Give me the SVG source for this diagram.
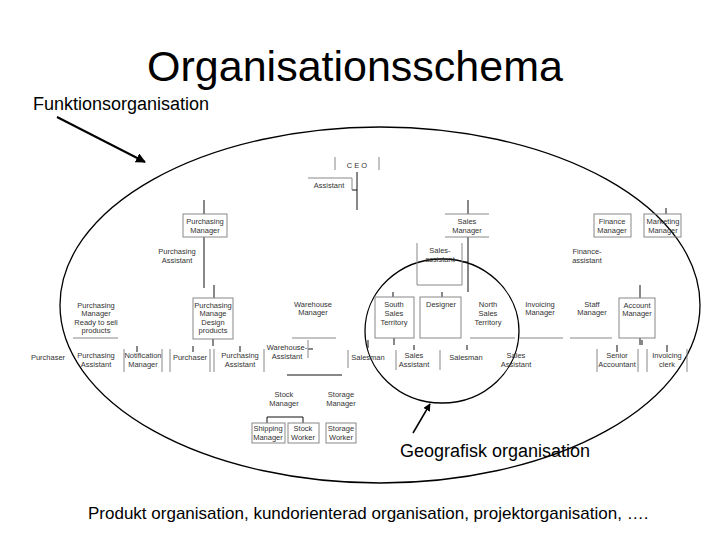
<svg xmlns="http://www.w3.org/2000/svg" width="720" height="540" viewBox="0 0 720 540">
<style>
.t{font-family:"Liberation Sans",Arial,sans-serif;font-size:7.5px;fill:#333;text-anchor:middle}
.b{fill:none;stroke:#888;stroke-width:1}
.c{fill:none;stroke:#111;stroke-width:1}
.big{font-family:"Liberation Sans",Arial,sans-serif;fill:#000}
.ell{fill:none;stroke:#000;stroke-width:1.3}
</style>
<defs>
<marker id="ah" viewBox="0 0 10 10" refX="9" refY="5" markerWidth="5" markerHeight="5" orient="auto"><path d="M0,0 L10,5 L0,10 z" fill="#000"/></marker>
</defs>
<rect width="720" height="540" fill="#fff"/>
<text class="big" x="355" y="81" font-size="43" text-anchor="middle">Organisationsschema</text>
<text class="big" x="33" y="110" font-size="18">Funktionsorganisation</text>
<text class="big" x="400" y="457" font-size="18">Geografisk organisation</text>
<text class="big" x="88" y="519" font-size="17">Produkt organisation, kundorienterad organisation, projektorganisation, ….</text>
<ellipse class="ell" cx="380" cy="305" rx="320" ry="178"/>
<ellipse class="ell" cx="442" cy="331" rx="77" ry="72"/>
<line x1="57" y1="117" x2="145" y2="162" stroke="#000" stroke-width="2" marker-end="url(#ah)"/>
<line x1="413" y1="433" x2="430" y2="404" stroke="#000" stroke-width="1.5" marker-end="url(#ah)"/>
<g id="connectors">
<path class="c" d="M357,172 V210 M352,190 H357 M204,200 V214 M468,200 V214 M666,208 V214"/>
<path class="c" d="M204,237 V288 M468,237 V292 M462,262 H468"/>
<path class="c" d="M214,285 V298 M393,292 V297 M442,292 V297 M640,285 V298"/>
<path class="c" d="M213,339 V346 M394,338 V345 M640,338 V345"/>
<path class="c" d="M137,346 V352 M193,346 V352 M240,346 V352 M308,349 H313 M368,340 V348 M414,345 V350 M467,345 V350 M617,345 V352 M642,340 V345 M667,345 V352"/>
<path class="c" d="M287,375 H342 M267,423 V417 H303 V423"/>
</g>
<g id="n-ceo"><path class="b" d="M335,157 V170 M379,157 V170"/><text class="t" x="357" y="168">C E O</text></g>
<g id="n-assistant"><path class="b" d="M308,178 H352 V190"/><text class="t" x="329" y="188">Assistant</text></g>
<g id="n-purchasing-manager"><rect class="b" x="183" y="214" width="44" height="23"/><text class="t" x="205" y="224">Purchasing</text><text class="t" x="205" y="233">Manager</text></g>
<g id="n-sales-manager"><path class="b" d="M445,214 H489 M445,237 H489"/><text class="t" x="467" y="224">Sales</text><text class="t" x="467" y="233">Manager</text></g>
<g id="n-finance-manager"><rect class="b" x="594" y="214" width="37" height="23"/><text class="t" x="612" y="224">Finance</text><text class="t" x="612" y="233">Manager</text></g>
<g id="n-marketing-manager"><rect class="b" x="644" y="214" width="37" height="23"/><text class="t" x="663" y="224">Marketing</text><text class="t" x="663" y="233">Manager</text></g>
<g id="n-purchasing-assistant"><text class="t" x="177" y="254">Purchasing</text><text class="t" x="177" y="263">Assistant</text></g>
<g id="n-sales-assistant"><path class="b" d="M417,243 V285 H462 V243"/><text class="t" x="440" y="253">Sales-</text><text class="t" x="440" y="262">assistant</text></g>
<g id="n-finance-assistant"><text class="t" x="587" y="254">Finance-</text><text class="t" x="587" y="263">assistant</text></g>
<g id="n-pm-ready"><path class="b" d="M73,338 H118"/><text class="t" x="96" y="308">Purchasing</text><text class="t" x="96" y="316">Manager</text><text class="t" x="96" y="325">Ready to sell</text><text class="t" x="96" y="333">products</text></g>
<g id="n-pm-design"><rect class="b" x="193" y="298" width="40" height="41"/><text class="t" x="213" y="308">Purchasing</text><text class="t" x="213" y="316">Manage</text><text class="t" x="213" y="325">Design</text><text class="t" x="213" y="333">products</text></g>
<g id="n-warehouse-manager"><path class="b" d="M292,338 H336"/><text class="t" x="313" y="307">Warehouse</text><text class="t" x="313" y="315">Manager</text></g>
<g id="n-south"><rect class="b" x="375" y="297" width="39" height="41"/><text class="t" x="394" y="307">South</text><text class="t" x="394" y="316">Sales</text><text class="t" x="394" y="325">Territory</text></g>
<g id="n-designer"><rect class="b" x="420" y="297" width="41" height="41"/><text class="t" x="441" y="307">Designer</text></g>
<g id="n-north"><path class="b" d="M470,338 H515"/><text class="t" x="488" y="307">North</text><text class="t" x="488" y="316">Sales</text><text class="t" x="488" y="325">Territory</text></g>
<g id="n-invoicing-manager"><path class="b" d="M520,338 H563"/><text class="t" x="540" y="307">Invoicing</text><text class="t" x="540" y="315">Manager</text></g>
<g id="n-staff-manager"><path class="b" d="M570,338 H612"/><text class="t" x="592" y="307">Staff</text><text class="t" x="592" y="315">Manager</text></g>
<g id="n-account-manager"><rect class="b" x="619" y="298" width="36" height="40"/><text class="t" x="637" y="308">Account</text><text class="t" x="637" y="316">Manager</text></g>
<g id="n-purchaser1"><text class="t" x="48" y="360">Purchaser</text></g>
<g id="n-pa1"><text class="t" x="96" y="358">Purchasing</text><text class="t" x="96" y="367">Assistant</text></g>
<g id="n-notification"><path class="b" d="M124,349 V372 M162,349 V372"/><text class="t" x="143" y="358">Notification</text><text class="t" x="143" y="367">Manager</text></g>
<g id="n-purchaser2"><path class="b" d="M170,349 V372 M210,349 V372"/><text class="t" x="190" y="360">Purchaser</text></g>
<g id="n-pa2"><path class="b" d="M214,349 V372 M264,349 V372"/><text class="t" x="240" y="358">Purchasing</text><text class="t" x="240" y="367">Assistant</text></g>
<g id="n-warehouse-assistant"><path class="b" d="M308,340 V358"/><text class="t" x="287" y="350">Warehouse-</text><text class="t" x="287" y="359">Assistant</text></g>
<g id="n-salesman1"><path class="b" d="M348,350 V368"/><text class="t" x="368" y="360">Salesman</text></g>
<g id="n-sales-assistant1"><path class="b" d="M396,350 V370 M440,350 V370"/><text class="t" x="414" y="358">Sales</text><text class="t" x="414" y="367">Assistant</text></g>
<g id="n-salesman2"><text class="t" x="466" y="360">Salesman</text></g>
<g id="n-sales-assistant2"><text class="t" x="516" y="358">Sales</text><text class="t" x="516" y="367">Assistant</text></g>
<g id="n-senior-accountant"><path class="b" d="M597,349 V372 M638,349 V372"/><text class="t" x="617" y="358">Senior</text><text class="t" x="617" y="367">Accountant</text></g>
<g id="n-invoicing-clerk"><path class="b" d="M647,349 V372 M687,349 V372"/><text class="t" x="667" y="358">Invoicing</text><text class="t" x="667" y="367">clerk</text></g>
<g id="n-stock-manager"><text class="t" x="284" y="397">Stock</text><text class="t" x="284" y="406">Manager</text></g>
<g id="n-storage-manager"><text class="t" x="341" y="397">Storage</text><text class="t" x="341" y="406">Manager</text></g>
<g id="n-shipping-manager"><rect class="b" x="252" y="423" width="33" height="20"/><text class="t" x="268" y="431">Shipping</text><text class="t" x="268" y="440">Manager</text></g>
<g id="n-stock-worker"><rect class="b" x="288" y="423" width="31" height="20"/><text class="t" x="303" y="431">Stock</text><text class="t" x="303" y="440">Worker</text></g>
<g id="n-storage-worker"><rect class="b" x="326" y="423" width="30" height="20"/><text class="t" x="341" y="431">Storage</text><text class="t" x="341" y="440">Worker</text></g>
</svg>
